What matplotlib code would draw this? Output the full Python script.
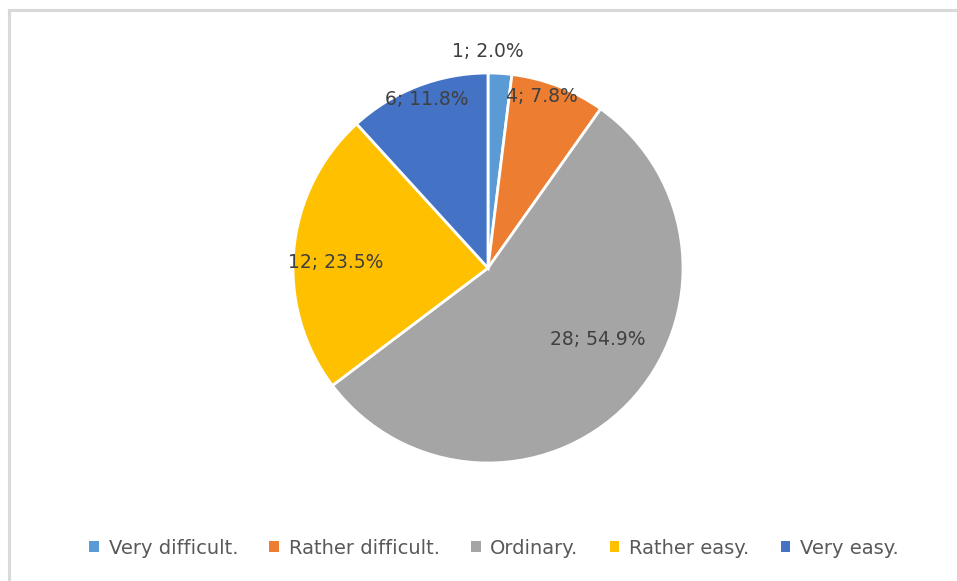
import matplotlib.pyplot as plt
from matplotlib.lines import Line2D
from matplotlib.patches import Patch

# data
categories = ['Very difficult.', 'Rather difficult.', 'Ordinary.', 'Rather easy.', 'Very easy.']
counts = [1, 4, 28, 12, 6]
colors = ['#5B9BD5', '#ED7D31', '#A5A5A5', '#FFC000', '#4472C4']
# label positions (in units of the pie radius), like Excel's best fit
label_pos = [(0.0, 1.108), (0.275, 0.877), (0.564, -0.369), (-0.78, 0.03), (-0.313, 0.862)]

W, H = 957, 581
fig = plt.figure(figsize=(W / 100, H / 100), dpi=100)

cx, cy, r = 488, 268, 195
ax = fig.add_axes([(cx - r) / W, (H - cy - r) / H, 2 * r / W, 2 * r / H])
wedges, _ = ax.pie(counts, colors=colors, startangle=90, counterclock=False,
                   wedgeprops=dict(edgecolor='white', linewidth=2))
ax.set_xlim(-1, 1)
ax.set_ylim(-1, 1)
ax.axis('off')

total = sum(counts)
for n, (x, y) in zip(counts, label_pos):
    ax.text(x, y, f'{n}; {n / total * 100:.1f}%', ha='center', va='center',
            fontsize=13.5, color='#404040')

# legend
handles = [Patch(facecolor=c, edgecolor='none') for c in colors]
fig.legend(handles, categories, loc='center', bbox_to_anchor=(494 / W, 1 - 548 / H),
           ncol=5, frameon=False, fontsize=14, labelcolor='#595959',
           handlelength=0.5, handleheight=0.5, handletextpad=0.5, columnspacing=1.6)

# chart area border (only top and left are visible in the crop)
fig.add_artist(Line2D([9 / W, 1], [1 - 9.5 / H, 1 - 9.5 / H], color='#D9D9D9', lw=2.2,
                      transform=fig.transFigure))
fig.add_artist(Line2D([9 / W, 9 / W], [0, 1 - 9.5 / H], color='#D9D9D9', lw=2.2,
                      transform=fig.transFigure))

fig.savefig('out.png', dpi=100)
